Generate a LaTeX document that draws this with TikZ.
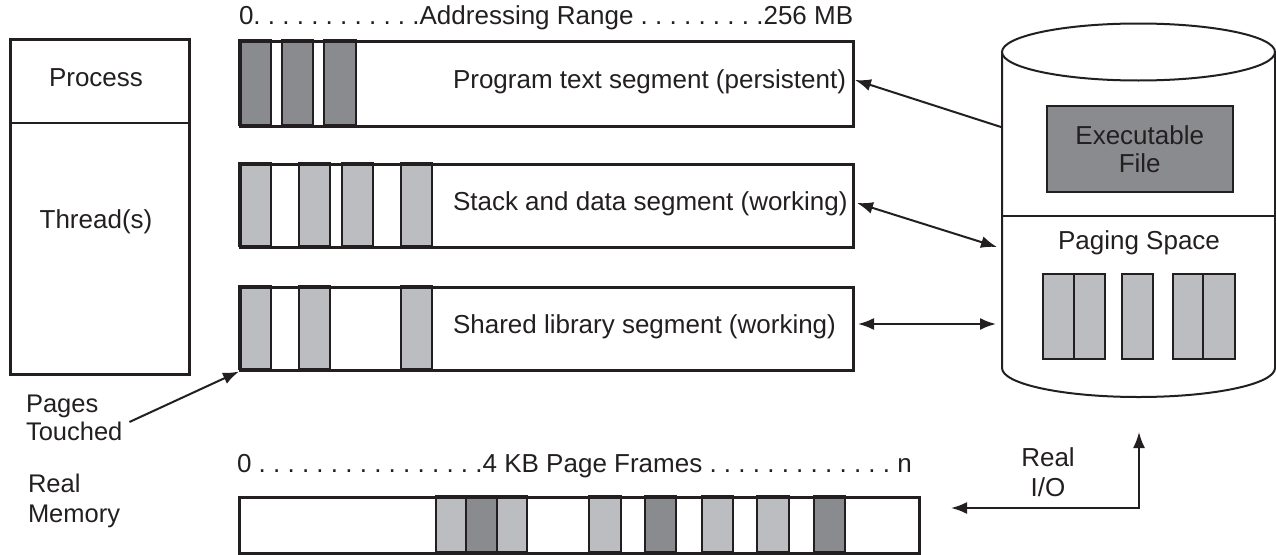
\documentclass[tikz,border=0pt]{standalone}
\usepackage{fontspec}
\setmainfont{Liberation Sans}
\usetikzlibrary{arrows.meta,calc}
\definecolor{ink}{HTML}{231F20}
\definecolor{dkgray}{HTML}{8A8B8E}
\definecolor{ltgray}{HTML}{BCBDC1}
\tikzset{
  segbox/.style={draw=ink, line width=2.5pt, anchor=north west, inner sep=0pt, minimum width=613pt},
  dkblk/.style={fill=dkgray, draw=ink, line width=2pt},
  ltblk/.style={fill=ltgray, draw=ink, line width=2pt},
  lbl/.style={text=ink, inner sep=2pt},
  arr/.style={draw=ink, line width=2pt, -{Latex[length=16pt,width=12pt]}},
  darr/.style={draw=ink, line width=2pt, {Latex[length=16pt,width=12pt]}-{Latex[length=16pt,width=12pt]}}
}
\frenchspacing
\begin{document}
\frenchspacing
\begin{tikzpicture}[x=1pt,y=-1pt, line width=2pt, font=\fontsize{26}{29}\selectfont\frenchspacing]
\useasboundingbox (0,0) rectangle (1276,554);

% Process / Thread box
\node[draw=ink, line width=2.5pt, anchor=north west, inner sep=0pt, minimum width=179pt, minimum height=335pt] (proc) at (9,38) {};
\draw[ink, line width=2.5pt] (proc.west |- 0,123) -- (proc.east |- 0,123);
\node[lbl] (tproc) at (96,78) {Process};
\node[lbl] (tthr) at (96,222) {Thread(s)};

% Addressing range label
\node[lbl, anchor=west] (addr) at (236,18) {0. . . . . . . . . . . .Addressing Range . . . . . . . . .256 MB};

% Segment 1
\foreach \a/\b in {239/271, 282/313, 324/356} \draw[dkblk] (\a,40) rectangle (\b,125);
\node[segbox, minimum height=85pt] (seg1) at (239,40) {};
\node[lbl, anchor=west] (t1) at (450,82) {Program text segment (persistent)};

% Segment 2
\foreach \a/\b in {239/271, 299/330, 342/373, 401/432} \draw[ltblk] (\a,163) rectangle (\b,246);
\node[segbox, minimum height=83pt] (seg2) at (239,163) {};
\node[lbl, anchor=west] (t2) at (450,204) {Stack and data segment (working)};

% Segment 3
\foreach \a/\b in {239/271, 299/330, 401/432} \draw[ltblk] (\a,286) rectangle (\b,369);
\node[segbox, minimum height=83pt] (seg3) at (239,286) {};
\node[lbl, anchor=west] (t3) at (450,327) {Shared library segment (working)};

% Left labels
\node[lbl, anchor=west, align=left, font=\fontsize{25.5}{28}\selectfont] (ptouch) at (23,418) {Pages\\Touched};
\node[lbl, anchor=west, align=left, font=\fontsize{25.5}{30}\selectfont] (rmem) at (25,501) {Real\\Memory};

% Real memory
\node[lbl, anchor=west] (frames) at (234,466) {0 . . . . . . . . . . . . . . . .4 KB Page Frames . . . . . . . . . . . . . n};
\foreach \a/\b in {436/466, 497/527, 589/621, 702/733, 757/789} \draw[ltblk] (\a,496) rectangle (\b,552);
\foreach \a/\b in {466/497, 645/676, 814/845} \draw[dkblk] (\a,496) rectangle (\b,552);
\node[draw=ink, line width=2.5pt, anchor=north west, inner sep=0pt, minimum width=680pt, minimum height=56pt] (realmem) at (238,496) {};

% Cylinder (disk)
\draw[ink, line width=2pt] (1002,52) -- (1002,368) arc[start angle=180, end angle=360, x radius=136.5pt, y radius=29pt] -- (1275,52);
\draw[ink, line width=2pt, fill=white] (1138.5,52) ellipse [x radius=136.5pt, y radius=28.5pt];
\draw[ink, line width=2pt] (1002,216) -- (1275,216);
\node[draw=ink, fill=dkgray, line width=1.5pt, anchor=north west, inner sep=0pt, minimum width=186pt, minimum height=86pt, align=center, text=ink, font=\fontsize{26}{28}\selectfont] (exe) at (1046,105) {Executable\\File};
\node[lbl] (pspace) at (1139,243) {Paging Space};
\foreach \a/\b in {1043/1074, 1074/1105, 1122/1153, 1173/1203, 1203/1235} \draw[ltblk] (\a,274) rectangle (\b,359);

% Connector end points
\coordinate (cylA) at (1001,127);
\coordinate (cylB) at (997,247);
\coordinate (cylC) at (996,324);
\coordinate (cylD) at (1139,432);
\coordinate (memIO) at (951,508);
\coordinate (seg1in) at (855,80);
\coordinate (seg2in) at (857,203);
\coordinate (seg3in) at (858,324);

% Arrows
\draw[arr] (cylA) -- (seg1in);
\draw[darr] (seg2in) -- (cylB);
\draw[darr] (seg3in) -- (cylC);
\draw[arr] ($(ptouch.east)+(4,4)$) -- (seg3.south west);
\draw[darr] (memIO) -| (cylD);
\node[lbl, align=center, font=\fontsize{26}{30}\selectfont] (rio) at (1048,472) {Real\\I/O};
\end{tikzpicture}
\end{document}
